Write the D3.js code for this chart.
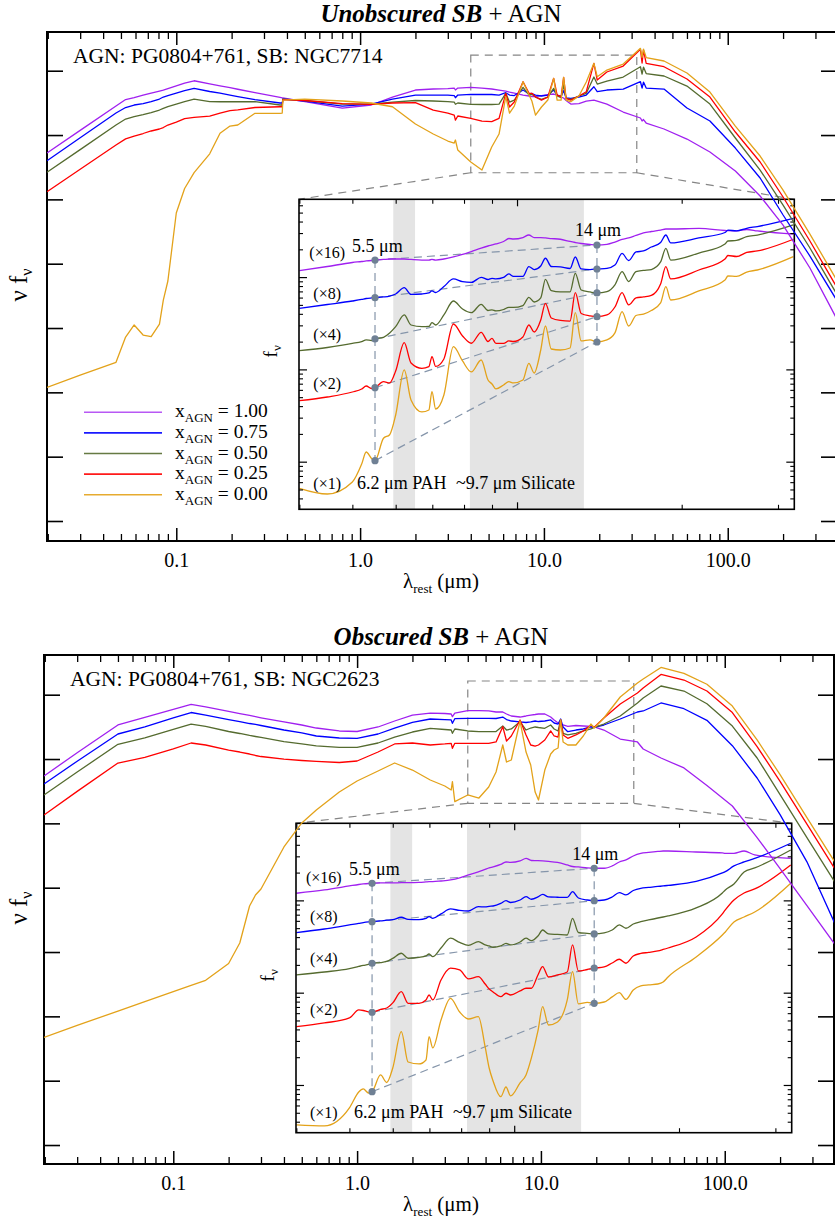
<!DOCTYPE html>
<html>
<head>
<meta charset="utf-8">
<script src="https://cdn.jsdelivr.net/npm/d3@7"></script>
<style>
  html, body { margin: 0; padding: 0; background: #fff; }
  svg { display: block; }
  text { font-family: "Liberation Serif", "Times New Roman", Times, serif; fill: #000; }
</style>
</head>
<body>
<svg id="fig" width="835" height="1219"></svg>
<script>
// ---------------------------------------------------------------------------
// Mixing fractions, colours and inset scale factors
const fracAGN = ['1.00', '0.75', '0.50', '0.25', '0.00'];
const seriesColors = ['#a020f0', '#0000ff', '#556b2f', '#ff0000', '#e3a21a'];
const insetFactors = ['16', '8', '4', '2', '1'];

// ---------------------------------------------------------------------------
// Unobscured starburst (NGC7714) + AGN: rest wavelength (µm) and log10(ν fν)
const waveUnobsc = [0.0198,0.03,0.047,0.053,0.059,0.066,0.073,0.081,0.085,0.09,
  0.1,0.111,0.125,0.152,0.173,0.196,0.216,0.268,0.367,0.377,
  0.38,0.5,0.8,1.15,1.5,2.0,2.5,3.0,3.25,3.3,
  3.4,4.0,4.6,5.2,5.7,6.2,6.5,6.9,7.7,8.3,
  8.6,9.0,9.7,10.5,11.3,11.8,12.4,12.8,13.2,14,
  15.5,17,18.7,19.5,22,27,33.5,34.2,34.8,36,
  45,60,80,110,150,200,280,400];
const logSedUnobsc100 = [5.721,6.073,6.451,6.552,6.583,6.619,6.652,6.684,6.700,6.723,
  6.765,6.806,6.844,6.796,6.765,6.736,6.712,6.661,6.585,6.579,
  6.576,6.521,6.420,6.467,6.591,6.700,6.716,6.723,6.731,6.700,
  6.731,6.742,6.731,6.716,6.700,6.684,6.669,6.653,6.622,6.607,
  6.599,6.596,6.614,6.630,6.638,6.622,6.591,6.576,6.537,6.482,
  6.487,6.529,6.544,6.529,6.482,6.358,6.265,6.218,6.241,6.187,
  6.094,5.938,5.736,5.441,5.052,4.601,3.933,3.094];
const logSedUnobsc075 = [5.601,5.958,6.342,6.428,6.467,6.490,6.521,6.560,6.591,6.614,
  6.653,6.692,6.726,6.677,6.653,6.622,6.599,6.552,6.498,6.498,
  6.560,6.529,6.451,6.482,6.560,6.622,6.622,6.622,6.614,6.580,
  6.622,6.633,6.630,6.630,6.622,6.658,6.622,6.614,6.700,6.638,
  6.646,6.622,6.607,6.622,6.700,6.622,6.599,6.689,6.576,6.571,
  6.591,6.622,6.751,6.674,6.700,6.715,6.829,6.731,6.824,6.731,
  6.715,6.420,6.218,5.798,5.332,4.757,4.119,3.389];
const logSedUnobsc050 = [5.421,5.773,6.156,6.249,6.288,6.319,6.350,6.389,6.416,6.443,
  6.482,6.521,6.560,6.521,6.518,6.518,6.518,6.518,6.467,6.467,
  6.560,6.537,6.482,6.482,6.513,6.537,6.529,6.521,6.513,6.478,
  6.498,6.478,6.475,6.475,6.482,6.649,6.513,6.544,6.742,6.622,
  6.633,6.591,6.555,6.591,6.726,6.607,6.583,6.778,6.571,6.555,
  6.607,6.649,6.902,6.793,6.840,6.902,7.062,6.949,7.057,6.956,
  6.918,6.762,6.482,5.954,5.456,4.912,4.244,3.482];
const logSedUnobsc025 = [5.119,5.467,5.845,5.941,5.985,6.024,6.063,6.094,6.117,6.156,
  6.202,6.254,6.276,6.293,6.342,6.381,6.392,6.428,6.440,6.440,
  6.552,6.537,6.490,6.478,6.498,6.503,6.389,6.342,6.311,6.233,
  6.296,6.260,6.218,6.210,6.260,6.649,6.436,6.513,6.829,6.649,
  6.649,6.591,6.544,6.591,6.882,6.622,6.596,6.897,6.571,6.544,
  6.607,6.674,7.115,6.855,6.980,7.073,7.333,7.120,7.322,7.115,
  7.062,6.871,6.591,6.047,5.581,5.037,4.353,3.591];
const logSedUnobsc000 = [2.078,2.268,2.467,2.860,3.047,2.891,2.865,3.062,3.435,3.731,
  4.788,5.169,5.416,5.708,6.027,6.140,6.156,6.338,6.338,6.342,
  6.544,6.560,6.529,6.498,6.440,6.171,6.016,5.907,5.876,5.923,
  5.767,5.581,5.456,5.814,6.016,6.596,6.342,6.451,6.829,6.622,
  6.529,6.311,6.436,6.544,6.882,6.544,6.544,6.897,6.544,6.518,
  6.607,6.824,7.115,6.907,7.011,7.104,7.348,7.208,7.337,7.205,
  7.151,6.964,6.669,6.140,5.674,5.145,4.461,3.700];

// Obscured starburst (NGC2623) + AGN
const waveObsc = [0.0198,0.03,0.05,0.07,0.1,0.125,0.15,0.2,0.23,0.26,
  0.28,0.3,0.4,0.5,0.6,0.8,1.0,1.3,1.6,2.0,
  2.5,3.0,3.25,3.3,3.4,4.0,4.6,5.2,5.7,6.2,
  6.5,6.9,7.7,8.3,8.8,9.3,9.7,10.5,11.3,11.8,
  12.4,12.8,13.2,14,15.5,17,18.7,19.5,22,27,
  33.5,36,45,60,80,110,150,200,280,400];
const logSedObsc100 = [5.736,6.098,6.529,6.647,6.770,6.848,6.809,6.739,6.705,6.677,
  6.658,6.641,6.576,6.529,6.482,6.436,6.428,6.498,6.591,6.684,
  6.715,6.708,6.700,6.658,6.715,6.751,6.751,6.747,6.731,6.731,
  6.700,6.669,6.653,6.669,6.684,6.692,6.700,6.700,6.653,6.607,
  6.560,6.544,6.529,6.506,6.521,6.513,6.506,6.498,6.451,6.311,
  6.265,6.156,6.016,5.861,5.587,5.270,4.779,4.297,3.723,3.109];
const logSedObsc075 = [5.612,5.966,6.389,6.498,6.638,6.723,6.684,6.614,6.583,6.552,
  6.537,6.521,6.451,6.405,6.358,6.327,6.322,6.389,6.482,6.568,
  6.622,6.614,6.607,6.555,6.627,6.633,6.633,6.633,6.630,6.653,
  6.614,6.591,6.576,6.568,6.576,6.591,6.583,6.591,6.607,6.560,
  6.544,6.622,6.498,6.425,6.451,6.467,6.498,6.493,6.529,6.622,
  6.731,6.747,6.871,6.782,6.602,6.207,5.705,5.136,4.402,3.425];
const logSedObsc050 = [5.441,5.798,6.229,6.327,6.459,6.544,6.506,6.428,6.397,6.366,
  6.350,6.335,6.272,6.234,6.203,6.182,6.182,6.249,6.342,6.420,
  6.475,6.459,6.451,6.400,6.467,6.436,6.425,6.425,6.428,6.513,
  6.451,6.467,6.580,6.451,6.482,6.498,6.490,6.478,6.529,6.467,
  6.436,6.607,6.400,6.374,6.400,6.436,6.467,6.493,6.544,6.669,
  6.871,6.949,7.135,7.057,6.860,6.513,6.016,5.447,4.779,4.073];
const logSedObsc025 = [5.130,5.497,5.938,6.024,6.156,6.249,6.218,6.140,6.109,6.078,
  6.055,6.039,6.000,5.977,5.962,5.946,5.969,6.109,6.234,6.249,
  6.218,6.234,6.244,6.167,6.244,6.244,6.244,6.244,6.265,6.503,
  6.280,6.358,6.607,6.374,6.218,6.202,6.218,6.296,6.436,6.358,
  6.342,6.607,6.374,6.322,6.374,6.436,6.529,6.493,6.638,6.855,
  7.026,7.104,7.314,7.228,7.057,6.723,6.193,5.654,4.987,4.280];
const logSedObsc000 = [1.674,1.859,2.082,2.228,2.383,2.481,2.560,2.822,3.140,3.715,
  3.886,3.980,4.633,5.006,5.208,5.487,5.658,5.814,5.938,5.829,
  5.674,5.581,5.519,5.648,5.337,5.441,5.394,5.565,5.798,6.218,
  5.954,5.985,6.591,6.109,5.907,5.487,5.363,5.829,6.078,6.140,
  6.171,6.607,6.265,6.218,6.218,6.358,6.544,6.482,6.638,6.964,
  7.182,7.244,7.423,7.330,7.162,6.824,6.296,5.758,5.089,4.384];

// ---------------------------------------------------------------------------
// Mid-IR zoom: wavelength (µm) and log10(fν × factor)
const waveInset = [4.0,4.5,5.0,5.2,5.3,5.42,5.5,5.7,5.85,6.0,
  6.22,6.4,6.7,6.9,6.99,7.1,7.35,7.65,7.95,8.25,
  8.6,8.85,9.0,9.15,9.45,9.66,9.85,10.25,10.51,10.75,
  11.05,11.27,11.55,12.0,12.5,12.78,13.1,13.6,14.0,14.6,
  15.1,15.56,16.0,16.5,17.03,17.6,18.3,18.71,19.1,21.5,
  24.0,24.3,25.2,26.3,27.5,32.0];
const logFnuUnobsc100 = [2.069,2.115,2.158,2.169,2.175,2.180,2.185,2.191,2.196,2.196,
  2.196,2.191,2.185,2.185,2.191,2.185,2.196,2.218,2.245,2.277,
  2.315,2.337,2.348,2.359,2.386,2.418,2.413,2.429,2.456,2.427,
  2.427,2.424,2.418,2.410,2.386,2.375,2.364,2.353,2.348,2.355,
  2.380,2.408,2.424,2.451,2.478,2.494,2.510,2.521,2.521,2.527,
  2.505,2.503,2.500,2.516,2.500,2.467];
const logFnuUnobsc075 = [1.662,1.703,1.741,1.758,1.768,1.774,1.777,1.785,1.795,1.817,
  1.885,1.812,1.817,1.828,1.850,1.833,1.898,1.980,1.950,1.942,
  1.998,1.974,1.987,1.980,1.996,2.034,2.007,2.007,2.113,2.082,
  2.120,2.204,2.115,2.110,2.093,2.218,2.088,2.082,2.088,2.095,
  2.131,2.256,2.180,2.272,2.283,2.326,2.375,2.456,2.370,2.424,
  2.483,2.510,2.500,2.529,2.548,2.637];
const logFnuUnobsc050 = [1.203,1.237,1.281,1.302,1.319,1.313,1.330,1.348,1.395,1.463,
  1.590,1.481,1.463,1.465,1.506,1.481,1.590,1.741,1.654,1.614,
  1.705,1.638,1.644,1.633,1.649,1.673,1.671,1.692,1.781,1.730,
  1.774,1.976,1.853,1.839,1.839,2.041,1.860,1.839,1.828,1.842,
  1.915,2.059,1.952,2.059,2.072,2.082,2.164,2.312,2.185,2.261,
  2.359,2.391,2.397,2.438,2.456,2.565];
const logFnuUnobsc025 = [0.661,0.701,0.755,0.788,0.820,0.793,0.802,0.867,0.853,0.983,
  1.289,1.070,1.012,1.029,1.138,1.032,1.113,1.492,1.362,1.283,
  1.402,1.302,1.337,1.281,1.281,1.308,1.302,1.351,1.481,1.405,
  1.535,1.716,1.557,1.530,1.524,1.831,1.606,1.579,1.571,1.590,
  1.676,1.831,1.698,1.774,1.785,1.801,1.925,2.113,1.980,2.077,
  2.196,2.234,2.223,2.267,2.283,2.410];
const logFnuUnobsc000 = [-0.288,-0.350,-0.220,-0.025,0.105,0.035,0.011,0.254,0.292,0.506,
  0.994,0.669,0.539,0.560,0.759,0.571,0.723,1.246,1.091,0.972,
  1.102,0.885,0.842,0.788,0.831,0.867,0.853,0.885,1.066,0.961,
  1.210,1.470,1.221,1.210,1.232,1.614,1.308,1.319,1.297,1.319,
  1.395,1.625,1.470,1.584,1.600,1.638,1.720,1.896,1.752,1.850,
  1.969,2.012,2.007,2.055,2.077,2.221];

const logFnuObsc100 = [2.077,2.113,2.156,2.172,2.178,2.183,2.185,2.189,2.189,2.189,
  2.192,2.192,2.194,2.200,2.203,2.203,2.210,2.221,2.243,2.275,
  2.308,2.335,2.351,2.362,2.389,2.416,2.411,2.427,2.456,2.432,
  2.430,2.427,2.422,2.411,2.384,2.367,2.362,2.351,2.348,2.348,
  2.373,2.416,2.438,2.481,2.508,2.519,2.530,2.535,2.535,2.524,
  2.514,2.510,2.510,2.535,2.492,2.456];
const logFnuObsc075 = [1.650,1.690,1.734,1.750,1.759,1.766,1.769,1.777,1.785,1.791,
  1.817,1.795,1.791,1.804,1.824,1.806,1.853,1.907,1.891,1.885,
  1.932,1.929,1.936,1.939,1.967,1.997,1.977,2.004,2.040,2.012,
  2.037,2.066,2.037,2.034,2.032,2.094,2.026,2.004,1.997,2.004,
  2.037,2.084,2.059,2.107,2.131,2.140,2.151,2.156,2.162,2.205,
  2.297,2.311,2.373,2.416,2.454,2.619];
const logFnuObsc050 = [1.192,1.224,1.260,1.284,1.295,1.306,1.319,1.325,1.338,1.371,
  1.427,1.373,1.382,1.398,1.419,1.390,1.484,1.590,1.544,1.512,
  1.553,1.517,1.506,1.492,1.506,1.535,1.517,1.549,1.590,1.564,
  1.614,1.679,1.636,1.631,1.625,1.806,1.652,1.642,1.636,1.647,
  1.679,1.734,1.698,1.744,1.769,1.788,1.809,1.820,1.831,1.918,
  2.080,2.113,2.178,2.308,2.351,2.546];
const logFnuObsc025 = [0.632,0.672,0.726,0.813,0.807,0.791,0.788,0.818,0.834,0.889,
  1.011,0.885,0.885,0.921,0.975,0.921,1.138,1.265,1.246,1.149,
  1.173,1.094,1.040,1.008,0.957,0.994,0.975,1.019,1.048,1.048,
  1.192,1.282,1.170,1.192,1.224,1.517,1.235,1.251,1.265,1.279,
  1.322,1.362,1.319,1.398,1.425,1.436,1.452,1.468,1.484,1.604,
  1.853,1.896,2.004,2.080,2.124,2.384];
const logFnuObsc000 = [-0.433,-0.444,-0.249,-0.076,-0.043,-0.087,-0.073,0.109,0.027,0.184,
  0.578,0.249,0.228,0.271,0.523,0.401,0.704,0.939,0.791,0.715,
  0.740,0.412,0.184,0.044,-0.127,-0.022,-0.119,0.022,0.109,0.293,
  0.585,0.848,0.650,0.683,0.921,1.228,0.878,0.894,0.885,0.899,
  0.954,1.000,0.927,1.029,1.073,1.084,1.094,1.116,1.170,1.387,
  1.625,1.658,1.766,1.820,1.874,2.185];

// Shaded feature windows and continuum anchor wavelengths (µm)
const pahBand = [5.94, 6.51];
const silicateBand = [8.2, 13.25];
const anchorWaves = [5.5, 14];

// Axis tick values
const mainDomainX = [0.0198, 393];
const mainMajorX = [0.1, 1, 10, 100];
const mainMajorXLabels = ['0.1', '1.0', '10.0', '100.0'];
const insetDomainX = [3.994, 32.13];
const insetMajorX = [10];
const insetMinorX = [4, 5, 6, 7, 8, 9, 20, 30];

// ---------------------------------------------------------------------------
const panels = [
  {
    id: 'unobsc', titleBold: 'Unobscured SB', titleY: 22,
    sources: 'AGN: PG0804+761, SB: NGC7714',
    frame: { x: 47, y: 32, w: 790, h: 509 }, dex: [-0.311, 7.602],
    wave: waveUnobsc,
    sed: [logSedUnobsc100, logSedUnobsc075, logSedUnobsc050, logSedUnobsc025, logSedUnobsc000],
    box: { wave: [4, 32], dex: [5.414, 7.244] },
    inset: { x: 299, y: 199.3, w: 495.3, h: 310, dex: [-0.516, 2.843] },
    insetSed: [logFnuUnobsc100, logFnuUnobsc075, logFnuUnobsc050, logFnuUnobsc025, logFnuUnobsc000],
    factorDx: [10.3, 14.3, 14.3, 14.3, 14.3],
    factorDy: [58.7, 99.7, 140.7, 189.7, 289.7],
    noteDy: { w55: 52.7, w14: 36.7, bottom: 289.7 },
    legend: true
  },
  {
    id: 'obsc', titleBold: 'Obscured SB', titleY: 645,
    sources: 'AGN: PG0804+761, SB: NGC2623',
    frame: { x: 44, y: 655, w: 790, h: 509 }, dex: [-0.295, 7.617],
    wave: waveObsc,
    sed: [logSedObsc100, logSedObsc075, logSedObsc050, logSedObsc025, logSedObsc000],
    box: { wave: [4, 32], dex: [5.312, 7.213] },
    inset: { x: 296, y: 823.3, w: 495.7, h: 309.4, dex: [-0.517, 2.835] },
    insetSed: [logFnuObsc100, logFnuObsc075, logFnuObsc050, logFnuObsc025, logFnuObsc000],
    factorDx: [10, 14, 14, 14, 14],
    factorDy: [59.7, 98.7, 140.7, 191.7, 294.7],
    noteDy: { w55: 51.7, w14: 36.7, bottom: 294.7 },
    legend: false
  }
];

const svg = d3.select('#fig');
const defs = svg.append('defs');

// inward-pointing tick marks built from d3 axes
function ticks(g, scale, orient, pos, values, len, width) {
  const make = { bottom: d3.axisBottom, top: d3.axisTop, left: d3.axisLeft, right: d3.axisRight }[orient];
  const ax = make(scale).tickValues(values).tickSize(-len).tickFormat('');
  const tr = (orient === 'bottom' || orient === 'top') ? `translate(0,${pos})` : `translate(${pos},0)`;
  const a = g.append('g').attr('transform', tr).call(ax);
  a.select('.domain').remove();
  a.selectAll('line').attr('stroke', '#000').attr('stroke-width', width);
}

function logMinor(lo, hi) {
  const out = [];
  for (let d = -3; d <= 3; d++) for (let k = 2; k <= 9; k++) {
    const v = k * Math.pow(10, d);
    if (v > lo && v < hi) out.push(+v.toPrecision(3));
  }
  return out;
}
function logMajor(lo, hi) {
  const out = [];
  for (let d = -3; d <= 8; d++) { const v = Math.pow(10, d); if (v >= lo && v <= hi) out.push(v); }
  return out;
}

function drawPanel(p) {
  const F = p.frame, I = p.inset;
  const g = svg.append('g').attr('id', p.id);
  const x = d3.scaleLog().domain(mainDomainX).range([F.x, F.x + F.w]);
  const y = d3.scaleLog().domain([10 ** p.dex[0], 10 ** p.dex[1]]).range([F.y + F.h, F.y]);

  // title
  const tt = g.append('text').attr('x', 441).attr('y', p.titleY)
    .attr('text-anchor', 'middle').attr('font-size', 25);
  tt.append('tspan').attr('font-weight', 'bold').attr('font-style', 'italic').text(p.titleBold);
  tt.append('tspan').text(' + AGN');

  // zoom box and connectors
  const bx0 = x(p.box.wave[0]), bx1 = x(p.box.wave[1]);
  const by0 = y(10 ** p.box.dex[1]), by1 = y(10 ** p.box.dex[0]);
  const dashed = sel => sel.attr('fill', 'none').attr('stroke', '#858585')
    .attr('stroke-width', 1.2).attr('stroke-dasharray', '8,6');
  g.append('rect').attr('x', bx0).attr('y', by0).attr('width', bx1 - bx0).attr('height', by1 - by0).call(dashed);
  g.append('line').attr('x1', bx0).attr('y1', by1).attr('x2', I.x).attr('y2', I.y).call(dashed);
  g.append('line').attr('x1', bx1).attr('y1', by1).attr('x2', I.x + I.w).attr('y2', I.y).call(dashed);

  drawInset(g, p);

  // main axes: frame, ticks, labels
  const loX = mainDomainX[0], hiX = mainDomainX[1];
  const yDom = y.domain();
  ticks(g, x, 'bottom', F.y + F.h, mainMajorX, 13, 1.5);
  ticks(g, x, 'bottom', F.y + F.h, logMinor(loX, hiX), 7, 1.3);
  ticks(g, x, 'top', F.y, mainMajorX, 13, 1.5);
  ticks(g, x, 'top', F.y, logMinor(loX, hiX), 7, 1.3);
  ticks(g, y, 'left', F.x, logMajor(yDom[0], yDom[1]), 16, 1.6);
  ticks(g, y, 'right', F.x + F.w, logMajor(yDom[0], yDom[1]), 16, 1.6);
  g.append('rect').attr('x', F.x).attr('y', F.y).attr('width', F.w).attr('height', F.h)
    .attr('fill', 'none').attr('stroke', '#000').attr('stroke-width', 2);

  const lab = d3.axisBottom(x).tickValues(mainMajorX).tickSize(0).tickPadding(12)
    .tickFormat((d, i) => mainMajorXLabels[i]);
  const la = g.append('g').attr('transform', `translate(0,${F.y + F.h})`).call(lab);
  la.select('.domain').remove();
  la.selectAll('text').attr('font-size', 20).attr('fill', '#000')
    .attr('font-family', '"Liberation Serif", "Times New Roman", serif');

  const xl = g.append('text').attr('x', 441).attr('y', F.y + F.h + 47)
    .attr('text-anchor', 'middle').attr('font-size', 21);
  xl.append('tspan').text('λ');
  xl.append('tspan').attr('font-size', 13).attr('dy', 5).text('rest');
  xl.append('tspan').attr('dy', -5).text(' (μm)');

  const yl = g.append('text').attr('transform', `translate(27,${F.y + 253}) rotate(-90)`)
    .attr('text-anchor', 'middle').attr('font-size', 25);
  yl.append('tspan').text('ν f');
  yl.append('tspan').attr('font-size', 16).attr('dy', 5).text('ν');

  g.append('text').attr('x', F.x + 26).attr('y', F.y + 31).attr('font-size', 21.5).text(p.sources);

  // SED curves, drawn over the inset
  defs.append('clipPath').attr('id', `clip-${p.id}`).append('rect')
    .attr('x', F.x).attr('y', F.y).attr('width', F.w).attr('height', F.h);
  const line = d3.line().x(d => x(d[0])).y(d => y(10 ** d[1]));
  const cg = g.append('g').attr('clip-path', `url(#clip-${p.id})`);
  p.sed.forEach((vals, i) => {
    cg.append('path').datum(p.wave.map((w, j) => [w, vals[j]]))
      .attr('d', line).attr('fill', 'none').attr('stroke', seriesColors[i])
      .attr('stroke-width', 1.3).attr('stroke-linejoin', 'round');
  });

  if (p.legend) {
    fracAGN.forEach((f, i) => {
      const ly = 412.3 + i * 20.6;
      g.append('line').attr('x1', 84).attr('x2', 162).attr('y1', ly).attr('y2', ly)
        .attr('stroke', seriesColors[i]).attr('stroke-width', 1.6).attr('stroke-opacity', i === 0 ? 0.75 : 0.9);
      const t = g.append('text').attr('x', 175).attr('y', ly + 5).attr('font-size', 19.5);
      t.append('tspan').text('x');
      t.append('tspan').attr('font-size', 13).attr('dy', 5).text('AGN');
      t.append('tspan').attr('dy', -5).text(' = ' + f);
    });
  }
}

function drawInset(g, p) {
  const I = p.inset;
  const xi = d3.scaleLog().domain(insetDomainX).range([I.x, I.x + I.w]);
  const yi = d3.scaleLog().domain([10 ** I.dex[0], 10 ** I.dex[1]]).range([I.y + I.h, I.y]);
  const ig = g.append('g');

  ig.append('rect').attr('x', I.x).attr('y', I.y).attr('width', I.w).attr('height', I.h).attr('fill', '#fff');
  [pahBand, silicateBand].forEach(b => {
    ig.append('rect').attr('x', xi(b[0])).attr('y', I.y).attr('width', xi(b[1]) - xi(b[0]))
      .attr('height', I.h).attr('fill', '#e4e4e4');
  });

  // continuum anchors
  const idx = anchorWaves.map(w => waveInset.indexOf(w));
  const anchors = p.insetSed.map(s => idx.map(k => s[k]));
  const guide = sel => sel.attr('stroke', '#8595aa').attr('stroke-width', 1.2).attr('stroke-dasharray', '8,5');
  anchorWaves.forEach((w, j) => {
    ig.append('line').attr('x1', xi(w)).attr('x2', xi(w))
      .attr('y1', yi(10 ** anchors[0][j])).attr('y2', yi(10 ** anchors[4][j])).call(guide);
  });
  anchors.forEach(a => {
    ig.append('line').attr('x1', xi(anchorWaves[0])).attr('y1', yi(10 ** a[0]))
      .attr('x2', xi(anchorWaves[1])).attr('y2', yi(10 ** a[1])).call(guide);
  });

  const line = d3.line().x(d => xi(d[0])).y(d => yi(10 ** d[1])).curve(d3.curveMonotoneX);
  p.insetSed.forEach((vals, i) => {
    ig.append('path').datum(waveInset.map((w, j) => [w, vals[j]]))
      .attr('d', line).attr('fill', 'none').attr('stroke', seriesColors[i])
      .attr('stroke-width', 1.3).attr('stroke-linejoin', 'round');
  });

  anchors.forEach(a => {
    anchorWaves.forEach((w, j) => {
      ig.append('circle').attr('cx', xi(w)).attr('cy', yi(10 ** a[j])).attr('r', 3.6).attr('fill', '#6f8094');
    });
  });

  // annotations
  insetFactors.forEach((f, i) => {
    ig.append('text').attr('x', I.x + p.factorDx[i]).attr('y', I.y + p.factorDy[i])
      .attr('font-size', 16).text(`(×${f})`);
  });
  ig.append('text').attr('x', xi(anchorWaves[0]) - 23).attr('y', I.y + p.noteDy.w55).attr('font-size', 18).text('5.5 μm');
  ig.append('text').attr('x', xi(anchorWaves[1]) - 22).attr('y', I.y + p.noteDy.w14).attr('font-size', 18).text('14 μm');
  ig.append('text').attr('x', I.x + 58).attr('y', I.y + p.noteDy.bottom).attr('font-size', 18).text('6.2 μm PAH');
  ig.append('text').attr('x', I.x + 157).attr('y', I.y + p.noteDy.bottom).attr('font-size', 18).text('~9.7 μm Silicate');

  const fl = ig.append('text').attr('transform', `translate(${I.x - 22},${I.y + 152}) rotate(-90)`)
    .attr('text-anchor', 'middle').attr('font-size', 19);
  fl.append('tspan').text('f');
  fl.append('tspan').attr('font-size', 13).attr('dy', 4).text('ν');

  // inset frame and ticks
  const yd = yi.domain();
  ticks(ig, xi, 'bottom', I.y + I.h, insetMajorX, 7, 1.2);
  ticks(ig, xi, 'bottom', I.y + I.h, insetMinorX, 4.5, 1.1);
  ticks(ig, xi, 'top', I.y, insetMajorX, 7, 1.2);
  ticks(ig, xi, 'top', I.y, insetMinorX, 4.5, 1.1);
  ticks(ig, yi, 'left', I.x, logMajor(yd[0], yd[1]), 8, 1.2);
  ticks(ig, yi, 'left', I.x, logMinor(yd[0], yd[1]), 4, 1.1);
  ticks(ig, yi, 'right', I.x + I.w, logMajor(yd[0], yd[1]), 8, 1.2);
  ticks(ig, yi, 'right', I.x + I.w, logMinor(yd[0], yd[1]), 4, 1.1);
  ig.append('rect').attr('x', I.x).attr('y', I.y).attr('width', I.w).attr('height', I.h)
    .attr('fill', 'none').attr('stroke', '#000').attr('stroke-width', 1.6);
}

panels.forEach(drawPanel);
</script>
</body>
</html>
